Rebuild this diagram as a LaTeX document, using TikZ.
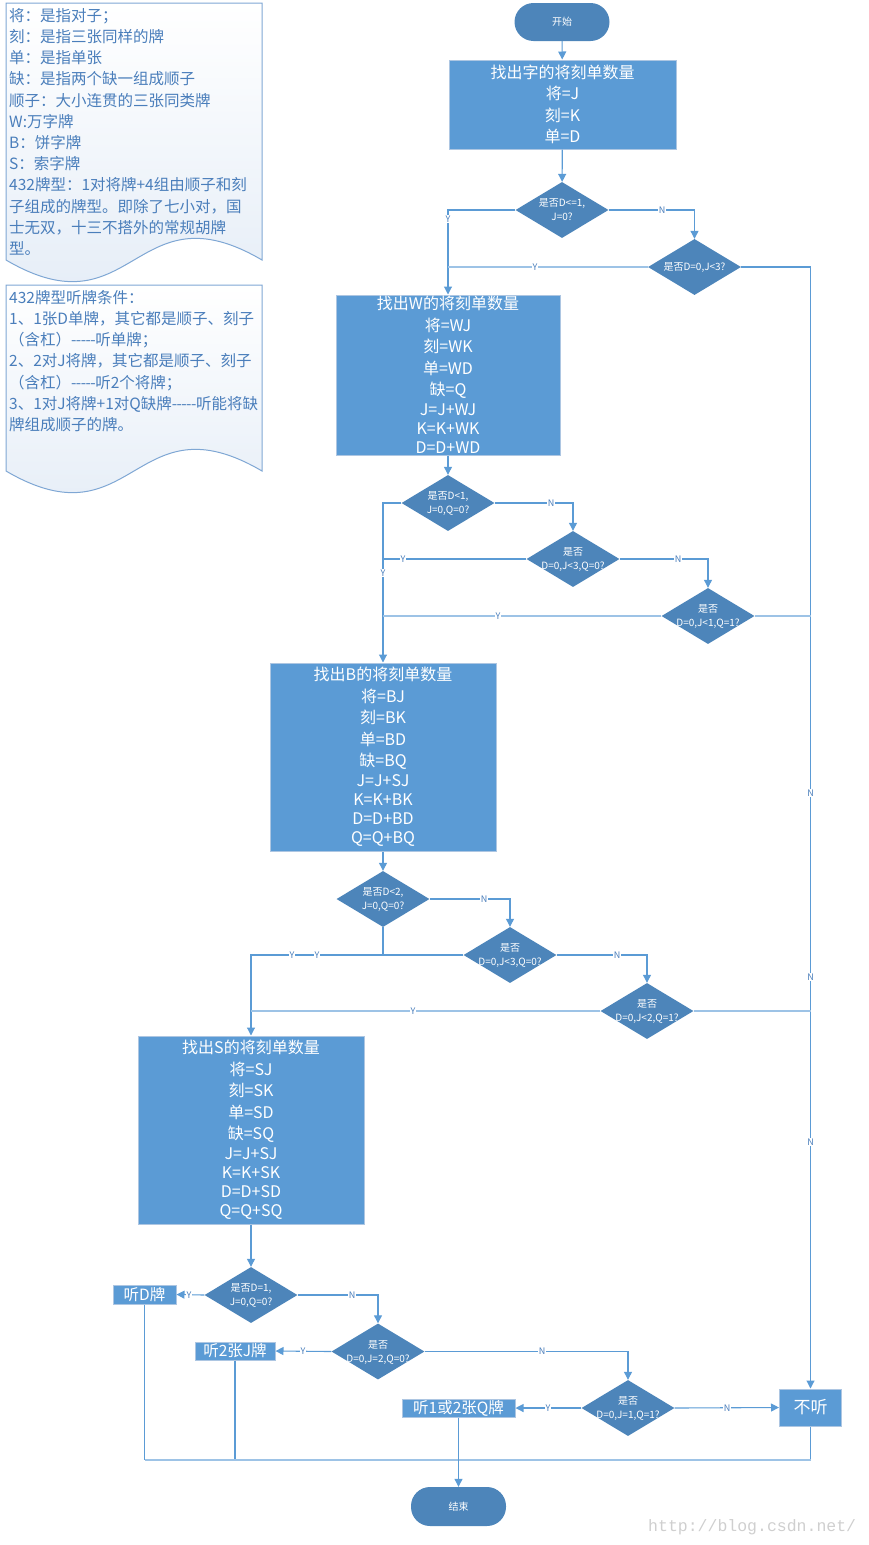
\documentclass[tikz,border=0pt]{standalone}
\usepackage{fontspec}
\setmainfont{Noto Sans CJK SC}
\newfontfamily\wmfont{Liberation Mono}
\usetikzlibrary{arrows.meta,shapes.geometric}
\definecolor{boxblue}{HTML}{5B9BD5}
\definecolor{dkblue}{HTML}{4D85BA}
\definecolor{boxedge}{HTML}{ADC6E2}
\definecolor{linec}{HTML}{5B9BD5}
\definecolor{litec}{HTML}{9DC3E6}
\definecolor{notetext}{HTML}{4A7EBB}
\definecolor{noteedge}{HTML}{7FA7D4}
\definecolor{notebg}{HTML}{E2EBF6}
\definecolor{labc}{HTML}{4A7EBB}
\definecolor{wmc}{HTML}{CFCFCF}
\newcommand\dtxt[2]{\smash{\makebox[0pt]{\raisebox{-3.5pt}{\begin{tabular}[c]{@{}c@{}}#1\\#2\end{tabular}}}}}
\newcommand\dtxtone[1]{\smash{\makebox[0pt]{\raisebox{-3.8pt}{#1}}}}
\newcommand\dsh{\mbox{-}\kern-0.6pt\mbox{-}\kern-0.6pt\mbox{-}\kern-0.6pt\mbox{-}\kern-0.6pt\mbox{-}\kern-0.4pt}
\begin{document}
\begin{tikzpicture}[x=1pt,y=-1pt,
  term/.style={rectangle, rounded corners=19pt, fill=dkblue, text=white, minimum width=95pt, minimum height=38pt, inner sep=0pt, font=\fontsize{10}{12}\selectfont},
  box/.style={rectangle, fill=boxblue, draw=boxedge, line width=1pt, text=white, align=center, inner sep=0pt, font=\fontsize{16}{21.5}\selectfont},
  res/.style={rectangle, fill=boxblue, draw=boxedge, line width=1pt, text=white, inner sep=0pt, font=\fontsize{15.5}{18}\selectfont},
  dia/.style={diamond, fill=dkblue, draw=none, minimum width=93pt, minimum height=56pt, inner sep=0pt, text=white, font=\fontsize{10}{14}\selectfont},
  lab/.style={fill=white, inner sep=0.8pt, text=labc, font=\fontsize{9}{9}\selectfont},
  conn/.style={draw=linec, line width=1.1pt},
  lite/.style={draw=litec, line width=1.8pt},
  arr/.style={conn, -{Triangle[length=8pt,width=8pt]}},
  notetxt/.style={text=notetext, align=left, inner sep=0pt, anchor=north west, font=\fontsize{15.5}{21.2}\selectfont},
  notebox/.style={top color=white, bottom color=notebg, draw=noteedge, line width=1pt}
]
\useasboundingbox (0,0) rectangle (868,1545);

% notes
\shadedraw[notebox] (6,3) -- (262,3) -- (262,260) .. controls (134,185) and (134,335) .. (6,260) -- cycle;
\shadedraw[notebox] (6,285) -- (262,285) -- (262,471) .. controls (134,396) and (134,546) .. (6,471) -- cycle;
\node[notetxt] (n1t) at (9,8) {将：是指对子；\\刻：是指三张同样的牌\\单：是指单张\\缺：是指两个缺一组成顺子\\顺子：大小连贯的三张同类牌\\W:万字牌\\B：饼字牌\\S：索字牌\\432牌型：1对将牌+4组由顺子和刻\\子组成的牌型。即除了七小对，国\\士无双，十三不搭外的常规胡牌\\型。};
\node[notetxt] (n2t) at (9,290) {432牌型听牌条件：\\1、1张D单牌，其它都是顺子、刻子\\（含杠）\dsh 听单牌；\\2、2对J将牌，其它都是顺子、刻子\\（含杠）\dsh 听2个将牌；\\3、1对J将牌+1对Q缺牌\dsh 听能将缺\\牌组成顺子的牌。};

% main nodes
\node[term] (start) at (562,22) {开始};
\node[box, minimum width=227pt, minimum height=89pt] (b0) at (562.5,104.5) {找出字的将刻单数量\\将=J\\刻=K\\单=D};
\node[dia] (d1) at (562,210) {\dtxt{是否D<=1,}{J=0?}};
\node[dia] (d2) at (694.5,267) {\dtxtone{是否D=0,J<3?}};
\node[box, minimum width=224pt, minimum height=160pt] (bW) at (448,375) {找出W的将刻单数量\\将=WJ\\刻=WK\\单=WD\\缺=Q\\[-1.5pt]J=J+WJ\\[-2.5pt]K=K+WK\\[-2.5pt]D=D+WD};
\node[dia] (d3) at (448,503) {\dtxt{是否D<1,}{J=0,Q=0?}};
\node[dia] (d3b) at (573,559) {\dtxt{是否}{D=0,J<3,Q=0?}};
\node[dia] (d3c) at (708,616) {\dtxt{是否}{D=0,J<1,Q=1?}};
\node[box, minimum width=226pt, minimum height=188pt] (bB) at (383,757) {找出B的将刻单数量\\将=BJ\\刻=BK\\单=BD\\缺=BQ\\[-1.5pt]J=J+SJ\\[-2.5pt]K=K+BK\\[-2.5pt]D=D+BD\\[-2.5pt]Q=Q+BQ};
\node[dia] (d4) at (383,899) {\dtxt{是否D<2,}{J=0,Q=0?}};
\node[dia] (d5) at (510,955) {\dtxt{是否}{D=0,J<3,Q=0?}};
\node[dia] (d6) at (647,1011) {\dtxt{是否}{D=0,J<2,Q=1?}};
\node[box, minimum width=226pt, minimum height=188pt] (bS) at (251,1130) {找出S的将刻单数量\\将=SJ\\刻=SK\\单=SD\\缺=SQ\\[-1.5pt]J=J+SJ\\[-2.5pt]K=K+SK\\[-2.5pt]D=D+SD\\[-2.5pt]Q=Q+SQ};
\node[dia] (d7) at (251,1295) {\dtxt{是否D=1,}{J=0,Q=0?}};
\node[res, minimum width=63pt, minimum height=19pt] (tD) at (144.5,1294.5) {听D牌};
\node[dia] (d8) at (378,1351.5) {\dtxt{是否}{D=0,J=2,Q=0?}};
\node[res, minimum width=80pt, minimum height=18pt] (tJ) at (235,1351) {听2张J牌};
\node[dia] (d9) at (628,1408) {\dtxt{是否}{D=0,J=1,Q=1?}};
\node[res, minimum width=113pt, minimum height=18pt] (tQ) at (458.5,1408) {听1或2张Q牌};
\node[res, minimum width=62pt, minimum height=37pt, font=\fontsize{17}{20}\selectfont] (bN) at (810.5,1407.5) {不听};
\node[term, minimum height=39pt] (end) at (458.5,1506.5) {结束};
\coordinate (bl) at (144.5,1460);
\coordinate (br) at (810.5,1460);

% connectors
\draw[arr] (start) -- (b0);
\draw[arr] (b0) -- (d1);
\draw[arr] (d1.west) -| (bW.north);
\draw[arr] (d1.east) -| (d2.north);
\draw[lite] (d2.west) -- (bW.north |- d2.west);
\draw[arr] (d2.east) -| (bN.north);
\draw[arr] (bW) -- (d3);
\draw[arr] (d3.west) -| (bB.north);
\draw[arr] (d3.east) -| (d3b.north);
\draw[conn] (d3b.west) -- (bB.north |- d3b.west);
\draw[arr] (d3b.east) -| (d3c.north);
\draw[lite] (d3c.west) -- (bB.north |- d3c.west);
\draw[lite] (d3c.east) -- (bN.north |- d3c.east);
\draw[arr] (bB) -- (d4);
\draw[conn] (d4.south) -- (d4.south |- d5.west);
\draw[arr] (d5.west) -| (bS.north);
\draw[arr] (d4.east) -| (d5.north);
\draw[arr] (d5.east) -| (d6.north);
\draw[lite] (d6.west) -- (bS.north |- d6.west);
\draw[lite] (d6.east) -- (bN.north |- d6.east);
\draw[arr] (bS) -- (d7);
\draw[arr] (d7.west) -- (tD.east);
\draw[arr] (d7.east) -| (d8.north);
\draw[arr] (d8.west) -- (tJ.east);
\draw[arr] (d8.east) -| (d9.north);
\draw[arr] (d9.west) -- (tQ.east);
\draw[arr] (d9.east) -- (bN.west);
\draw[conn] (tD.south) -- (bl);
\draw[conn] (tJ.south) -- (tJ.south |- bl);
\draw[conn] (bN.south) -- (br);
\draw[lite] (bl) -- (br);
\draw[arr] (tQ.south) -- (end.north);

% labels
\node[lab] (l1) at (448,219) {Y};
\node[lab] (l2) at (662,210) {N};
\node[lab] (l3) at (535,267) {Y};
\node[lab] (l4) at (810.5,793) {N};
\node[lab] (l5) at (810.5,977) {N};
\node[lab] (l6) at (810.5,1142) {N};
\node[lab] (l7) at (383,573) {Y};
\node[lab] (l8) at (551,503) {N};
\node[lab] (l9) at (403,559) {Y};
\node[lab] (l10) at (678,559) {N};
\node[lab] (l11) at (498,616) {Y};
\node[lab] (l12) at (484,899) {N};
\node[lab] (l13) at (292,955) {Y};
\node[lab] (l14) at (317,955) {Y};
\node[lab] (l15) at (617,955) {N};
\node[lab] (l16) at (413,1011) {Y};
\node[lab] (l17) at (189,1295) {Y};
\node[lab] (l18) at (352,1295) {N};
\node[lab] (l19) at (303,1351.5) {Y};
\node[lab] (l20) at (542,1351.5) {N};
\node[lab] (l21) at (548,1408) {Y};
\node[lab] (l22) at (727,1408) {N};

\node[anchor=base west, text=wmc, inner sep=0pt, font=\wmfont\fontsize{16.5}{16.5}\selectfont] (wm) at (648,1531) {http://blog.csdn.net/};
\end{tikzpicture}
\end{document}
